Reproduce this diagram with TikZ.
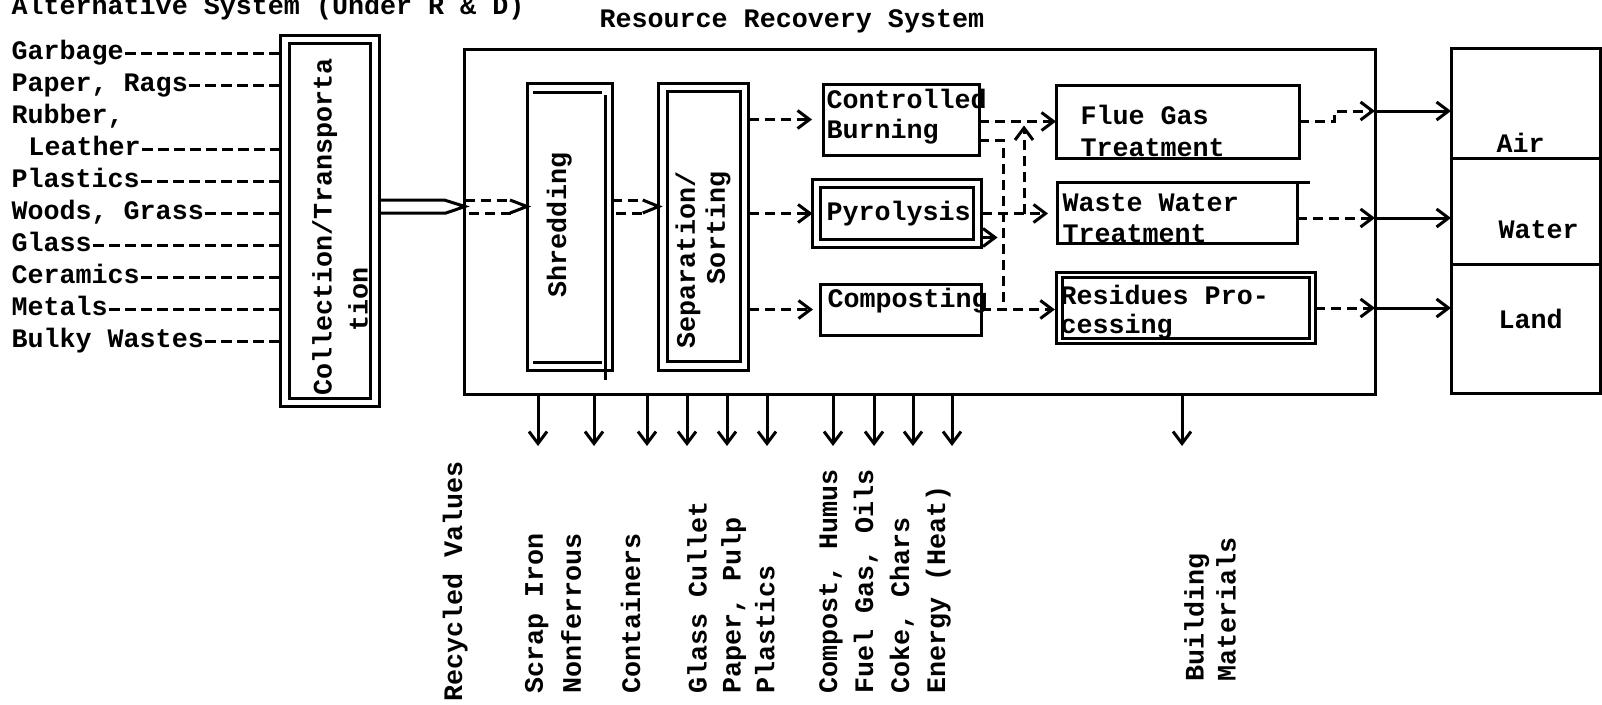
\documentclass[tikz,border=0pt]{standalone}
\usepackage{fontspec}
\usetikzlibrary{arrows.meta,positioning}
\newfontfamily\typewr{Liberation Mono}
\newcommand{\tw}{\typewr\bfseries\fontsize{15.2}{18.2}\selectfont}
\newcommand{\twl}[1]{\typewr\bfseries\fontsize{15.2}{#1}\selectfont}
\frenchspacing
\tikzset{
  box/.style={draw, line width=0.6mm, outer sep=0pt, inner sep=0pt},
  dbox/.style={box, double, double distance=1.1mm, outer sep=0.85mm},
  tx/.style={font=\tw, inner sep=0pt, text height=9.6pt, text depth=2.6pt},
  txm/.style={font=\twl{#1}, inner sep=0pt, align=left},
  txm/.default=18.2,
  dsh/.style={dash pattern=on 2mm off 1.2mm},
  hyph/.style={dash pattern=on 2.2mm off 1mm}
}
\begin{document}
\begin{tikzpicture}[x=0.2mm, y=-0.2mm, line width=0.6mm, >={Straight Barb[length=2.4mm,width=3.6mm]}]
\useasboundingbox (0,0) rectangle (1602,705);

\node[tx, anchor=west] (alttitle) at (10,8) {Alternative System (Under R \& D)};
\node[tx, anchor=west] (rrstitle) at (598,21) {Resource Recovery System};

\node[tx, anchor=west] (garbage) at (10,53) {Garbage};
\node[tx, anchor=west] (paper) at (10,85) {Paper, Rags};
\node[tx, anchor=west] (rubber) at (10,117) {Rubber,};
\node[tx, anchor=west] (leather) at (27,149) {Leather};
\node[tx, anchor=west] (plastics) at (10,181) {Plastics};
\node[tx, anchor=west] (woods) at (10,213) {Woods, Grass};
\node[tx, anchor=west] (glass) at (10,245) {Glass};
\node[tx, anchor=west] (ceramics) at (10,277) {Ceramics};
\node[tx, anchor=west] (metals) at (10,309) {Metals};
\node[tx, anchor=west] (bulky) at (10,341) {Bulky Wastes};

\node[dbox, minimum width=18mm, minimum height=72.6mm] (coll) at (330,221) {};
\node[txm=20.5, rotate=90] (colltxt) at (340,227) {Collection/Transporta\\\hspace*{2.4em}tion};

\draw[hyph] (garbage.east) -- (garbage.east -| coll.west);
\draw[hyph] (paper.east) -- (paper.east -| coll.west);
\draw[hyph] (leather.east) -- (leather.east -| coll.west);
\draw[hyph] (plastics.east) -- (plastics.east -| coll.west);
\draw[hyph] (woods.east) -- (woods.east -| coll.west);
\draw[hyph] (glass.east) -- (glass.east -| coll.west);
\draw[hyph] (ceramics.east) -- (ceramics.east -| coll.west);
\draw[hyph] (metals.east) -- (metals.east -| coll.west);
\draw[hyph] (bulky.east) -- (bulky.east -| coll.west);

\node[box, minimum width=182mm, minimum height=68.8mm] (rrs) at (920,222) {};

\node[box, minimum width=17mm, minimum height=57.4mm] (shred) at (569.5,226.5) {};
\draw ([shift={(6,9)}]shred.north west) -- ([shift={(-10,9)}]shred.north east);
\draw ([shift={(-7,12)}]shred.north east) -- ([shift={(-7,10)}]shred.south east);
\draw ([shift={(6,-8)}]shred.south west) -- ([shift={(-10,-8)}]shred.south east);
\node[tx, rotate=90] (shredtxt) at (560,225) {Shredding};

\node[dbox, minimum width=16.3mm, minimum height=55.7mm] (sep) at (703.75,226.75) {};
\node[txm=17, align=right, rotate=90] (septxt) at (703,260) {Separation/\\Sorting};

\node[box, minimum width=31.2mm, minimum height=14.2mm] (cb) at (901,119.5) {};
\node[txm=17, anchor=west] (cbtxt) at (825,117) {Controlled\\Burning};
\node[dbox, double distance=1mm, outer sep=0.8mm, minimum width=32.2mm, minimum height=12mm] (pyro) at (897,213.5) {};
\node[tx, anchor=west] (pyrotxt) at (825,214) {Pyrolysis};
\node[box, minimum width=32.2mm, minimum height=10.2mm] (comp) at (900.5,309.5) {};
\node[tx, anchor=west] (comptxt) at (826,301) {Composting};

\node[box, minimum width=48.6mm, minimum height=14.6mm] (fgt) at (1177.5,121.5) {};
\node[txm, anchor=west] (fgttxt) at (1079,131) {Flue Gas\\Treatment};
\node[box, minimum width=48mm, minimum height=12.2mm] (wwt) at (1177,212.5) {};
\draw (wwt.north east) -- ++(13,0);
\node[txm=17.5, anchor=west] (wwttxt) at (1061,218) {Waste Water\\Treatment};
\node[dbox, double distance=0.45mm, outer sep=0.53mm, minimum width=50.6mm, minimum height=13.3mm] (resid) at (1186,308) {};
\node[txm=16.8, anchor=west] (residtxt) at (1059,312) {Residues Pro-\\cessing};

\node[box, minimum width=29.8mm, minimum height=22mm] (air) at (1525.5,103) {};
\node[box, minimum width=29.8mm, minimum height=21.2mm, below=0mm of air] (water) {};
\node[box, minimum width=29.8mm, minimum height=25.8mm, below=0mm of water] (land) {};
\node[tx, anchor=west] (airtxt) at (1495,146) {Air};
\node[tx, anchor=west] (watertxt) at (1497,232) {Water};
\node[tx, anchor=west] (landtxt) at (1497,322) {Land};

\draw (coll.east |- 0,200) -- ++(65,0) -- (rrs.west |- 0,206.5) -- ++(-19,6.5) -- (coll.east |- 0,213);
\draw[dsh] (rrs.west |- 0,200) -- ++(46,0) ++(0,13) -- ++(-46,0);
\draw (shred.west |- 0,206.5) ++(-17,-6.5) -- (shred.west |- 0,206.5) -- ++(-17,6.5);
\draw[dsh] (shred.east |- 0,200) -- ++(30,0) ++(0,13) -- ++(-30,0);
\draw (sep.west |- 0,206.5) ++(-16,-6.5) -- (sep.west |- 0,206.5) -- ++(-16,6.5);

\draw[dsh, ->, shorten >=2.2mm] (sep.east |- cb.west) -- (cb.west);
\draw[dsh, ->] (sep.east |- pyro.west) -- (pyro.west);
\draw[dsh, ->, shorten >=1.4mm] (sep.east |- comp.west) -- (comp.west);

\coordinate (jn) at (1003,0 |- comp.east);
\draw[dsh, ->] (cb.east |- fgt.west) -- (fgt.west);
\draw[dsh] ([yshift=3mm]cb.south east) -| (jn);
\draw[dsh, ->, shorten >=1.8mm] (pyro.east) -- (wwt.west |- pyro.east);
\draw[dsh, ->, shorten >=0.8mm] (1024,0 |- pyro.east) -- (1024,0 |- fgt.west);
\draw[->] ([yshift=2mm]pyro.south east) -- ++(16,0);
\draw[dsh, ->, shorten >=0.4mm] (comp.east) -- (resid.west |- comp.east);

\draw[dsh, ->] (fgt.east) -- ++(35,0) |- (rrs.east |- 0,111);
\draw[->] (rrs.east |- 0,111) -- (air.west |- 0,111);
\draw[dsh, ->] (wwt.east |- 0,218) -- (rrs.east |- 0,218);
\draw[->] (rrs.east |- 0,218) -- (water.west |- 0,218);
\draw[dsh, ->] (resid.east) -- (rrs.east |- resid.east);
\draw[->] (rrs.east |- resid.east) -- (land.west |- resid.east);

\draw[->] (rrs.south -| 538,0) -- ++(0,52);
\draw[->] (rrs.south -| 594,0) -- ++(0,52);
\draw[->] (rrs.south -| 647,0) -- ++(0,52);
\draw[->] (rrs.south -| 687,0) -- ++(0,52);
\draw[->] (rrs.south -| 727,0) -- ++(0,52);
\draw[->] (rrs.south -| 767,0) -- ++(0,52);
\draw[->] (rrs.south -| 833,0) -- ++(0,52);
\draw[->] (rrs.south -| 874,0) -- ++(0,52);
\draw[->] (rrs.south -| 913,0) -- ++(0,52);
\draw[->] (rrs.south -| 952,0) -- ++(0,52);
\draw[->] (rrs.south -| 1182,0) -- ++(0,52);

\node[tx, rotate=90, anchor=west] (recyc) at (456,703) {Recycled Values};
\node[txm=21.6, rotate=90, anchor=west] (scrap) at (553,695) {Scrap Iron\\Nonferrous};
\node[tx, rotate=90, anchor=west] (contain) at (634,695) {Containers};
\node[txm=19.3, rotate=90, anchor=west] (cullet) at (731,695) {Glass Cullet\\Paper, Pulp\\Plastics};
\node[txm=20.5, rotate=90, anchor=west] (fuels) at (885,695) {Compost, Humus\\Fuel Gas, Oils\\Coke, Chars\\Energy (Heat)};
\node[txm, rotate=90, anchor=west] (buildmat) at (1210,683) {Building\\Materials};
\end{tikzpicture}
\end{document}
